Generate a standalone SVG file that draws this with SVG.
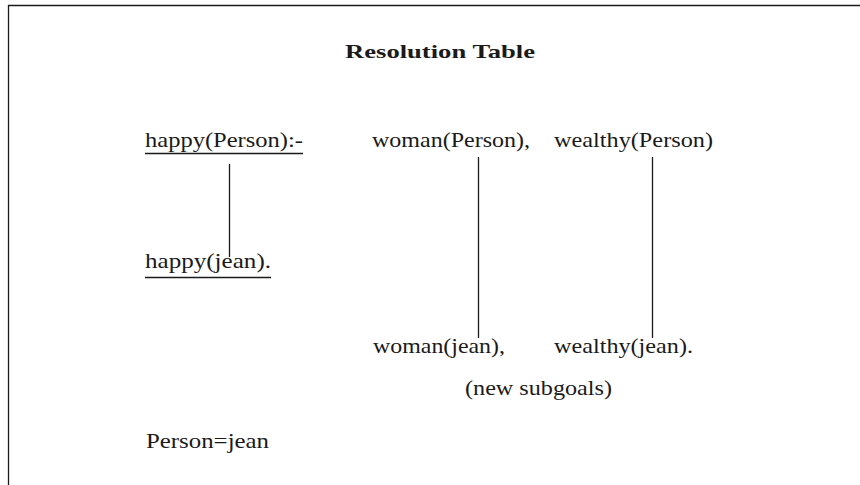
<svg xmlns="http://www.w3.org/2000/svg" width="860" height="485" viewBox="0 0 860 485">
<style>
text{font-family:"Liberation Serif","Times New Roman",serif;font-size:22px;fill:#1a1a1a}
.title{font-weight:bold;font-size:19px}
.ln{stroke:#1a1a1a;stroke-width:1.3;fill:none}
</style>
<rect width="860" height="485" fill="#fff"/>
<path class="ln" d="M8.5 485V5.5H860" stroke-width="2"/>
<text class="title" x="345" y="58" textLength="190" lengthAdjust="spacingAndGlyphs">Resolution Table</text>
<g id="head">
<text x="145" y="147" textLength="158" lengthAdjust="spacingAndGlyphs">happy(Person):-</text>
<line class="ln" x1="145" y1="153.5" x2="303" y2="153.5"/>
</g>
<g id="fact">
<text x="145" y="268" textLength="126" lengthAdjust="spacingAndGlyphs">happy(jean).</text>
<line class="ln" x1="145" y1="277.5" x2="271" y2="277.5"/>
</g>
<g id="goal1"><text x="372" y="147" textLength="158" lengthAdjust="spacingAndGlyphs">woman(Person),</text></g>
<g id="goal2"><text x="554" y="147" textLength="159" lengthAdjust="spacingAndGlyphs">wealthy(Person)</text></g>
<g id="sub1"><text x="373" y="353" textLength="132" lengthAdjust="spacingAndGlyphs">woman(jean),</text></g>
<g id="sub2"><text x="554" y="353" textLength="139" lengthAdjust="spacingAndGlyphs">wealthy(jean).</text></g>
<g id="note"><text x="465" y="395" textLength="147" lengthAdjust="spacingAndGlyphs">(new subgoals)</text></g>
<g id="binding"><text x="146" y="448" textLength="123" lengthAdjust="spacingAndGlyphs">Person=jean</text></g>
<g id="connectors">
<line class="ln" x1="229.5" y1="164" x2="229.5" y2="257"/>
<line class="ln" x1="478.5" y1="157" x2="478.5" y2="338"/>
<line class="ln" x1="652.5" y1="157" x2="652.5" y2="338"/>
</g>
</svg>
